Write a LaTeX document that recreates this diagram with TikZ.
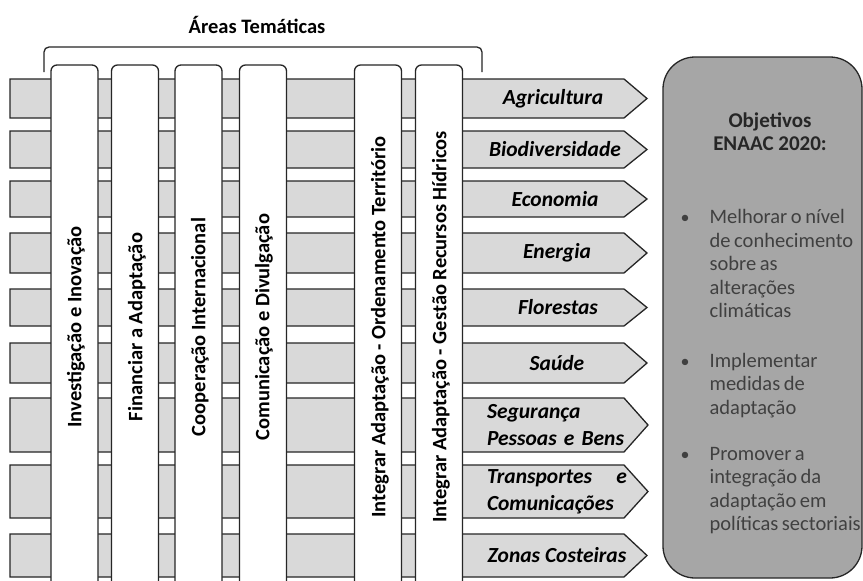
\documentclass[tikz,border=0pt]{standalone}
\usepackage{fontspec}
\setmainfont{Carlito}
\usetikzlibrary{positioning}
\definecolor{faixa}{RGB}{217,217,217}
\definecolor{caixa}{RGB}{166,166,166}
\definecolor{texto}{RGB}{64,64,64}
\newcommand{\espacocurto}{\spaceskip=3.6pt plus 1pt\relax}

\begin{document}
\begin{tikzpicture}[x=1pt,y=-1pt,line width=1.3pt,
  band/.style={draw=black!85,fill=faixa},
  coluna/.style={draw=black!85,fill=white,rounded corners=6pt,minimum width=47pt,minimum height=540pt,inner sep=0pt},
  tema/.style={rotate=90,font=\fontsize{20.5}{24}\selectfont\bfseries,inner sep=0pt},
  setor/.style={font=\fontsize{21.5}{27}\selectfont\bfseries\itshape,inner sep=0pt},
  objbox/.style={draw=black!85,fill=caixa,rounded corners=32pt,minimum width=199pt,minimum height=521pt},
  item/.style={font=\fontsize{20.5}{23.5}\selectfont\espacocurto,text=texto,align=left,anchor=north west,inner sep=0pt},
  bul/.style={font=\fontsize{18}{23.5}\selectfont,text=texto,anchor=north,inner sep=0pt}]
\clip (0,0) rectangle (863,581);
\fill[white] (0,0) rectangle (863,581);
% title and brace
\node[font=\fontsize{20.5}{24}\selectfont\bfseries] (areas) at (257,25) {Áreas Temáticas};
\draw[draw=black!85,rounded corners=5pt] (44,72) -- (44,47) -- (482,47) -- (482,72);
% sector bands
\draw[band] (10,79) -- (624,79) -- (647,98.5) -- (624,118) -- (10,118) -- cycle;
\draw[band] (10,131) -- (624,131) -- (647,149.5) -- (624,168) -- (10,168) -- cycle;
\draw[band] (10,181) -- (624,181) -- (647,199) -- (624,217) -- (10,217) -- cycle;
\draw[band] (10,233) -- (624,233) -- (647,253) -- (624,273) -- (10,273) -- cycle;
\draw[band] (10,289) -- (624,289) -- (647,307.5) -- (624,326) -- (10,326) -- cycle;
\draw[band] (10,343) -- (624,343) -- (647,363) -- (624,383) -- (10,383) -- cycle;
\draw[band] (10,398) -- (624,398) -- (648,425) -- (624,452) -- (10,452) -- cycle;
\draw[band] (10,465) -- (624,465) -- (648,491.5) -- (624,518) -- (10,518) -- cycle;
\draw[band] (10,534) -- (624,534) -- (647,555.5) -- (624,577) -- (10,577) -- cycle;
% thematic columns
\node[coluna] (inv) at (74.5,335) {};
\node[coluna] (fin) at (135,335) {};
\node[coluna] (coop) at (198.5,335) {};
\node[coluna] (com) at (263,335) {};
\node[coluna] (ord) at (378,335) {};
\node[coluna] (agua) at (439,335) {};
\node[tema] (invt) at (76,327) {Investigação e Inovação};
\node[tema] (fint) at (137,327) {Financiar a Adaptação};
\node[tema] (coopt) at (200,327) {Cooperação Internacional};
\node[tema] (comt) at (264,327) {Comunicação e Divulgação};
\node[tema] (ordt) at (380,327) {Integrar Adaptação - Ordenamento Território};
\node[tema] (aguat) at (441,327) {Integrar Adaptação - Gestão Recursos Hídricos};
% sector labels
\node[setor] (agri) at (553,98.5) {Agricultura};
\node[setor] (bio) at (555,149.5) {Biodiversidade};
\node[setor] (eco) at (555,199) {Economia};
\node[setor] (ener) at (557,253) {Energia};
\node[setor] (flor) at (558,307.5) {Florestas};
\node[setor] (saude) at (557,363) {Saúde};
\node[setor,text width=142pt,align=left] (seg) at (558,425) {Segurança\\Pessoas e Bens};
\node[setor,text width=140pt,align=left] (transp) at (557,491.5) {Transportes\hfill e\\Comunicações};
\node[setor] (zonas) at (557,555.5) {Zonas Costeiras};
% objectives box
\node[objbox] (obj) at (762.5,317.5) {};
\node[font=\fontsize{21}{23}\selectfont\bfseries,text=black!85,align=center,anchor=north,inner sep=0pt] (objt) at (770,111) {\strut Objetivos\\ENAAC 2020:};
\node[item] (m1) at (709,206.5) {\strut Melhorar o nível\\de conhecimento\\sobre as\\alterações\\climáticas};
\node[item] (m2) at (709,350) {\strut Implementar\\medidas de\\adaptação};
\node[item] (m3) at (709,443) {\strut Promover a\\integração da\\adaptação em\\políticas sectoriais};
\node[bul] (b1) at ([xshift=-24pt]m1.north west) {\rule{0pt}{16.45pt}•};
\node[bul] (b2) at ([xshift=-24pt]m2.north west) {\rule{0pt}{16.45pt}•};
\node[bul] (b3) at ([xshift=-24pt]m3.north west) {\rule{0pt}{16.45pt}•};
\end{tikzpicture}
\end{document}
